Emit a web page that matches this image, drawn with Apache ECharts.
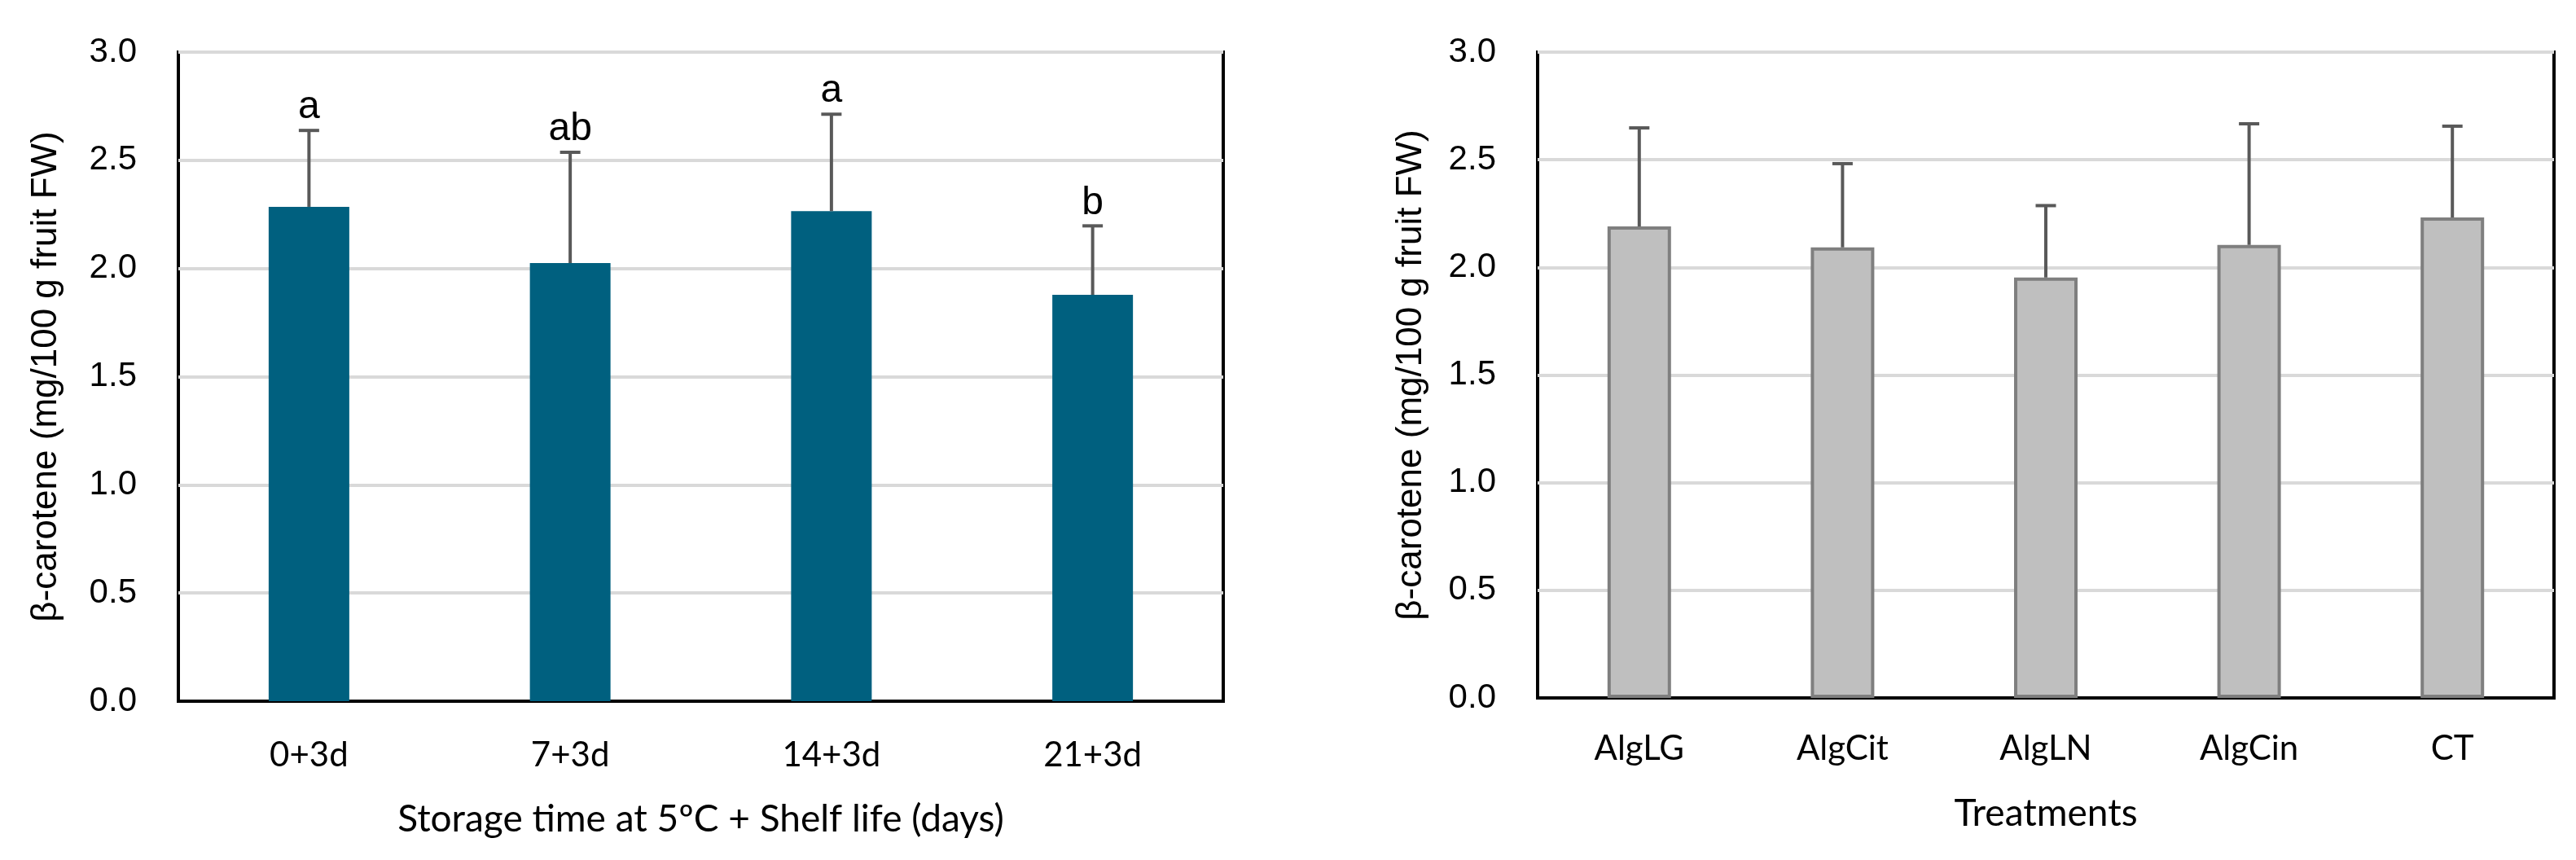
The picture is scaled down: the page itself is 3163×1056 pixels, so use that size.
<!DOCTYPE html>
<html>
<head>
<meta charset="utf-8">
<script src="https://cdn.jsdelivr.net/npm/echarts@6.0.0/dist/echarts.min.js"></script>
<style>
  html, body { margin: 0; padding: 0; background: #fff; }
  #chart { width: 3163px; height: 1056px; }
</style>
</head>
<body>
<div id="chart"></div>
<script>
// left panel: storage time
const storageDays = ['0+3d', '7+3d', '14+3d', '21+3d'];
const storageMean = [2.285, 2.025, 2.265, 1.878];
const storageSd = [0.353, 0.512, 0.448, 0.319];
const storageLetters = ['a', 'ab', 'a', 'b'];

// right panel: treatments
const treatments = ['AlgLG', 'AlgCit', 'AlgLN', 'AlgCin', 'CT'];
const treatMean = [2.190, 2.093, 1.953, 2.104, 2.232];
const treatSd = [0.458, 0.389, 0.334, 0.563, 0.424];

const yTitle = 'β-carotene (mg/100 g fruit FW)';

const myChart = echarts.init(document.getElementById('chart'));

function errorBars(letters) {
    return function (params, api) {
        const m = api.value(1), sd = api.value(2);
        const base = api.coord([api.value(0), m]);
        const top = api.coord([api.value(0), m + sd]);
        const st = { stroke: '#595959', lineWidth: 4 };
        const kids = [
            { type: 'line', shape: { x1: base[0], y1: base[1], x2: top[0], y2: top[1] }, style: st },
            { type: 'line', shape: { x1: top[0] - 12.5, y1: top[1], x2: top[0] + 12.5, y2: top[1] }, style: st }
        ];
        if (letters) {
            kids.push({
                type: 'text',
                style: {
                    text: letters[params.dataIndex], x: top[0], y: top[1] - 4,
                    align: 'center', verticalAlign: 'bottom',
                    font: '48px "Liberation Sans"', fill: '#000'
                }
            });
        }
        return { type: 'group', children: kids };
    };
}

const yAxisBase = {
    type: 'value', min: 0, max: 3, interval: 0.5,
    name: yTitle, nameLocation: 'middle', nameRotate: 90,
    nameTextStyle: { fontFamily: 'Liberation Sans', fontSize: 44, color: '#000' },
    axisLine: { show: false }, axisTick: { show: false },
    axisLabel: { formatter: v => v.toFixed(1), fontFamily: 'Liberation Sans', fontSize: 42, color: '#000', margin: 51 },
    splitLine: { lineStyle: { color: '#D9D9D9', width: 4 } }
};
const xAxisBase = {
    type: 'category', nameLocation: 'middle',
    nameTextStyle: { fontFamily: 'Lato', fontSize: 46, color: '#000' },
    axisLine: { show: true, lineStyle: { color: '#000', width: 4 } },
    axisTick: { show: false },
    axisLabel: { fontFamily: 'Lato', fontSize: 42, color: '#000' },
    splitLine: { show: false }
};

myChart.setOption({
    animation: false,
    backgroundColor: '#fff',
    grid: [
        { left: 219, right: 1661, top: 64, bottom: 195, show: true, borderColor: '#000', borderWidth: 4 },
        { left: 1888, right: 27, top: 64, bottom: 199, show: true, borderColor: '#000', borderWidth: 4 }
    ],
    xAxis: [
        Object.assign({}, xAxisBase, { gridIndex: 0, data: storageDays, name: 'Storage time at 5ºC + Shelf life (days)', nameGap: 122,
            axisLabel: Object.assign({}, xAxisBase.axisLabel, { margin: 45 }) }),
        Object.assign({}, xAxisBase, { gridIndex: 1, data: treatments, name: 'Treatments', nameGap: 119,
            axisLabel: Object.assign({}, xAxisBase.axisLabel, { margin: 41 }) })
    ],
    yAxis: [
        Object.assign({}, yAxisBase, { gridIndex: 0, nameGap: 140 }),
        Object.assign({}, yAxisBase, { gridIndex: 1, nameGap: 133 })
    ],
    series: [
        { type: 'bar', xAxisIndex: 0, yAxisIndex: 0, data: storageMean, barWidth: 99,
          itemStyle: { color: '#00607F' } },
        { type: 'custom', xAxisIndex: 0, yAxisIndex: 0, z: 3,
          data: storageMean.map((m, i) => [i, m, storageSd[i]]),
          renderItem: errorBars(storageLetters) },
        { type: 'bar', xAxisIndex: 1, yAxisIndex: 1, data: treatMean, barWidth: 78,
          itemStyle: { color: '#BFBFBF', borderColor: '#7F7F7F', borderWidth: 4 } },
        { type: 'custom', xAxisIndex: 1, yAxisIndex: 1, z: 3,
          data: treatMean.map((m, i) => [i, m, treatSd[i]]),
          renderItem: errorBars(null) }
    ]
});

window.addEventListener('resize', () => myChart.resize());
</script>
</body>
</html>
